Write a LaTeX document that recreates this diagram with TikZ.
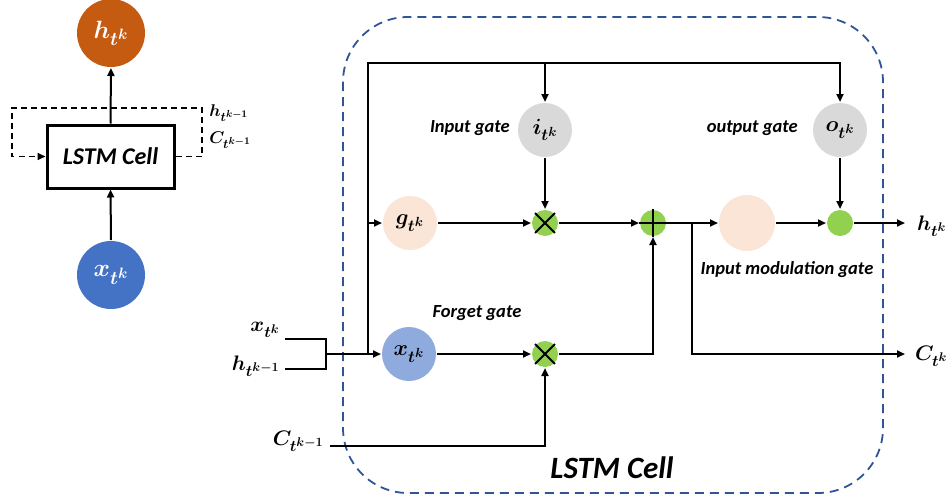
\RequirePackage{fix-cm}
\documentclass[tikz,border=0pt]{standalone}
\usepackage{fontspec}
\setmainfont{Carlito}
\usepackage{bm}
\DeclareMathSizes{25}{25}{19}{15}
\DeclareMathSizes{22}{22}{16.5}{13.2}
\DeclareMathSizes{21}{21}{15.8}{12.6}
\DeclareMathSizes{17}{17}{12.8}{10.2}
\usetikzlibrary{arrows.meta,calc}
\definecolor{horange}{HTML}{C55A11}
\definecolor{xblue}{HTML}{4472C4}
\definecolor{fblue}{HTML}{8FAADC}
\definecolor{ggray}{HTML}{D9D9D9}
\definecolor{peach}{HTML}{FBE5D6}
\definecolor{opgreen}{HTML}{92D050}
\definecolor{cellblue}{HTML}{2F5597}
\begin{document}
\begin{tikzpicture}[x=1pt,y=-1pt,line width=2pt,
  >={Triangle[length=8pt,width=7pt]},
  big/.style={circle,minimum size=68pt,inner sep=0pt,text=white,font=\fontsize{25}{28}\selectfont},
  gatec/.style={circle,minimum size=54pt,inner sep=0pt,font=\fontsize{22}{24}\selectfont},
  opc/.style={circle,minimum size=26pt,inner sep=0pt,fill=opgreen},
  lbl/.style={font=\fontsize{18.5}{21}\selectfont\bfseries\itshape},
  varlbl/.style={font=\fontsize{21}{24}\selectfont},
  smalllbl/.style={font=\fontsize{17}{20}\selectfont},
  loop/.style={dash pattern=on 6pt off 4pt,line width=1.6pt},
  cellborder/.style={draw=cellblue,dash pattern=on 9pt off 6pt,line width=1.8pt,rounded corners=65pt}]
\useasboundingbox (0,0) rectangle (952,501);

% ---------- left: unrolled view ----------
\node[big,fill=horange] (hout) at (111,33) {$\bm{h}_{\bm{t}^{\bm{k}}}$};
\node[draw,line width=3pt,minimum width=127pt,minimum height=63pt,inner sep=0pt,
  font=\fontsize{24}{26}\selectfont\bfseries\itshape] (cell) at (110.5,156.5) {LSTM Cell};
\node[big,fill=xblue] (xin) at (111,275) {$\bm{x}_{\bm{t}^{\bm{k}}}$};
\draw[->] (cell.north) -- (hout.south);
\draw[->] (xin.north) -- (cell.south);
\coordinate (lr) at (202,108);
\coordinate (ll) at (12,108);
\draw[loop,->] (cell.east) -| (lr) -- (ll) |- (cell.west);
\node[smalllbl,anchor=west] (hprevl) at (205,113) {$\bm{h}_{\bm{t}^{\bm{k-1}}}$};
\node[smalllbl,anchor=west] (cprevl) at (205,140) {$\bm{C}_{\bm{t}^{\bm{k-1}}}$};

% ---------- right: LSTM cell ----------
\draw[cellborder] (343,17) rectangle (883,493);
\node[font=\fontsize{31}{34}\selectfont\bfseries\itshape] (title) at (612,468) {LSTM Cell};

\node[gatec,fill=ggray] (ig) at (545,130) {$\bm{i}_{\bm{t}^{\bm{k}}}$};
\node[gatec,fill=ggray] (og) at (840,130) {$\bm{o}_{\bm{t}^{\bm{k}}}$};
\node[gatec,fill=peach] (gg) at (410,223) {$\bm{g}_{\bm{t}^{\bm{k}}}$};
\node[gatec,fill=fblue] (fg) at (409,354) {$\bm{x}_{\bm{t}^{\bm{k}}}$};
\node[gatec,fill=peach,minimum size=56pt] (mod) at (747,223) {};
\node[opc] (mi) at (545,223) {};
\node[opc] (pl) at (653,223) {};
\node[opc] (mf) at (545,354) {};
\node[opc] (od) at (840,223) {};
\draw[line width=1.8pt] (mi.north west) -- (mi.south east) (mi.north east) -- (mi.south west);
\draw[line width=1.8pt] (mf.north west) -- (mf.south east) (mf.north east) -- (mf.south west);
\draw[line width=1.8pt] (pl.north) -- (pl.south) (pl.west) -- (pl.east);

\node[lbl,anchor=east] (igl) at (514,128) {Input gate};
\node[lbl,anchor=east] (ogl) at (802,128) {output gate};
\node[lbl] (fgl) at (477,313) {Forget gate};
\node[lbl] (modl) at (787,270) {Input modulation gate};

% top bus
\coordinate (tl) at (368,63);
\coordinate (jn) at (368,354);
\draw[->] (jn) -- (tl) -| (og.north);
\draw[->] (ig.north |- tl) -- (ig.north);
\draw[->] (tl |- gg) -- (gg.west);

% inputs
\node[varlbl,anchor=east] (xl) at (284,330) {$\bm{x}_{\bm{t}^{\bm{k}}}$};
\node[varlbl,anchor=east] (hl) at (284,366) {$\bm{h}_{\bm{t}^{\bm{k-1}}}$};
\coordinate (ba) at (285,339);
\coordinate (bb) at (285,369);
\coordinate (bm) at (326,354);
\draw (ba) -| (bm |- bb) -- (bb);
\draw[->] (bm) -- (fg.west);
\node[varlbl,anchor=east] (cl) at (328,441) {$\bm{C}_{\bm{t}^{\bm{k-1}}}$};
\coordinate (cs) at (330,446);
\draw[->] (cs) -| (mf.south);

% internal flow
\draw[->] (gg) -- (mi);
\draw[->] (ig) -- (mi);
\draw[->] (fg) -- (mf);
\draw[->] (mi) -- (pl);
\draw[->] (mf.east) -| (pl.south);
\draw[->] (pl) -- (mod);
\draw[->] (mod) -- (od);
\draw[->] (og) -- (od);
\coordinate (br) at (692,223);
\coordinate (hend) at (905,223);
\coordinate (cend) at (905,354);
\draw[->] (od) -- (hend);
\draw[->] (br) |- (cend);
\node[varlbl,anchor=west,inner sep=0pt] (hol) at (916,226) {$\bm{h}_{\bm{t}^{\bm{k}}}$};
\node[varlbl,anchor=west,inner sep=0pt] (col) at (914,356) {$\bm{C}_{\bm{t}^{\bm{k}}}$};
\end{tikzpicture}
\end{document}
